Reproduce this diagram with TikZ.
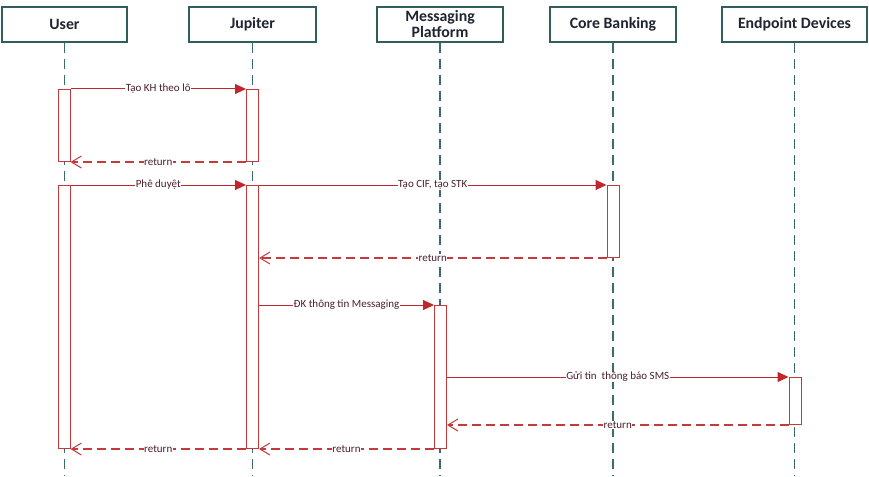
\documentclass[tikz,border=0pt]{standalone}
\usepackage{fontspec}
\setmainfont{Carlito}
\usetikzlibrary{arrows.meta}
\definecolor{hdrteal}{HTML}{2F5E5C}
\definecolor{lifeteal}{HTML}{3E6A6A}
\definecolor{msgred}{HTML}{C0272D}
\definecolor{retred}{HTML}{C53A3A}
\definecolor{barred}{HTML}{C43A3A}
\definecolor{lbltxt}{HTML}{4A1F2C}
\definecolor{hdrtxt}{HTML}{1E2430}
\begin{document}
\begin{tikzpicture}[x=1pt,y=-1pt,
 header/.style={draw=hdrteal, line width=2pt, fill=white, rectangle, inner sep=0pt, minimum height=35pt, text=hdrtxt, font=\fontsize{15.8}{16}\selectfont\bfseries, align=center},
 lifeline/.style={draw=lifeteal, line width=1.1pt, dash pattern=on 10pt off 6pt},
 actbar/.style={draw=barred, line width=1pt, fill=white, rectangle, inner sep=0pt, minimum width=12pt, anchor=north},
 syncmsg/.style={draw=msgred, line width=1pt, -{Triangle[length=11pt,width=10pt]}},
 retmsg/.style={draw=retred, line width=1.4pt, dash pattern=on 9pt off 5pt, -{Straight Barb[length=10pt,width=12pt,line width=1pt]}},
 msglbl/.style={fill=white, inner sep=0.5pt, text=lbltxt, font=\fontsize{11}{12}\selectfont, midway}
]
\useasboundingbox (0,0) rectangle (869,476);
\fill[white] (0,0) rectangle (869,476);
\coordinate (bottom) at (0,476);

% headers
\node[header, minimum width=125pt] (user) at (64.5,24.5) {User};
\node[header, minimum width=127pt] (jup) at (252.5,24.5) {Jupiter};
\node[header, minimum width=126pt] (msg) at (440,24.5) {Messaging\\Platform};
\node[header, minimum width=126pt] (core) at (613,24.5) {Core Banking};
\node[header, minimum width=145pt] (endp) at (794.5,24.5) {Endpoint Devices};

% lifelines
\draw[lifeline] (user.south) -- (user.south |- bottom);
\draw[lifeline] (jup.south) -- (jup.south |- bottom);
\draw[lifeline] (msg.south) -- (msg.south |- bottom);
\draw[lifeline] (core.south) -- (core.south |- bottom);
\draw[lifeline] (endp.south) -- (endp.south |- bottom);

% activation bars
\node[actbar, minimum height=72pt] (ub1) at (64,89) {};
\node[actbar, minimum height=72pt] (jb1) at (252.5,89) {};
\node[actbar, minimum height=263pt] (ub2) at (64,185) {};
\node[actbar, minimum height=263pt] (jb2) at (252.5,185) {};
\node[actbar, minimum height=72pt] (cb) at (613,185) {};
\node[actbar, minimum height=143pt] (mb) at (440.5,305) {};
\node[actbar, minimum height=47pt] (eb) at (795,377) {};

% messages
\draw[syncmsg] (ub1.north east) -- node[msglbl]{Tạo KH theo lô} (jb1.north west);
\draw[retmsg] (jb1.south west) -- node[msglbl]{return} (ub1.south east);
\draw[syncmsg] (ub2.north east) -- node[msglbl]{Phê duyệt} (jb2.north west);
\draw[syncmsg] (jb2.north east) -- node[msglbl]{Tạo CIF, tạo STK} (cb.north west);
\draw[retmsg] (cb.south west) -- node[msglbl]{return} (cb.south west -| jb2.east);
\draw[syncmsg] (mb.north west -| jb2.east) -- node[msglbl]{ĐK thông tin Messaging} (mb.north west);
\draw[syncmsg] (eb.north west -| mb.east) -- node[msglbl]{Gửi tin~ thông báo SMS} (eb.north west);
\draw[retmsg] (eb.south west) -- node[msglbl]{return} (eb.south west -| mb.east);
\draw[retmsg] (mb.south west) -- node[msglbl]{return} (jb2.south east);
\draw[retmsg] (jb2.south west) -- node[msglbl]{return} (ub2.south east);
\end{tikzpicture}
\end{document}
